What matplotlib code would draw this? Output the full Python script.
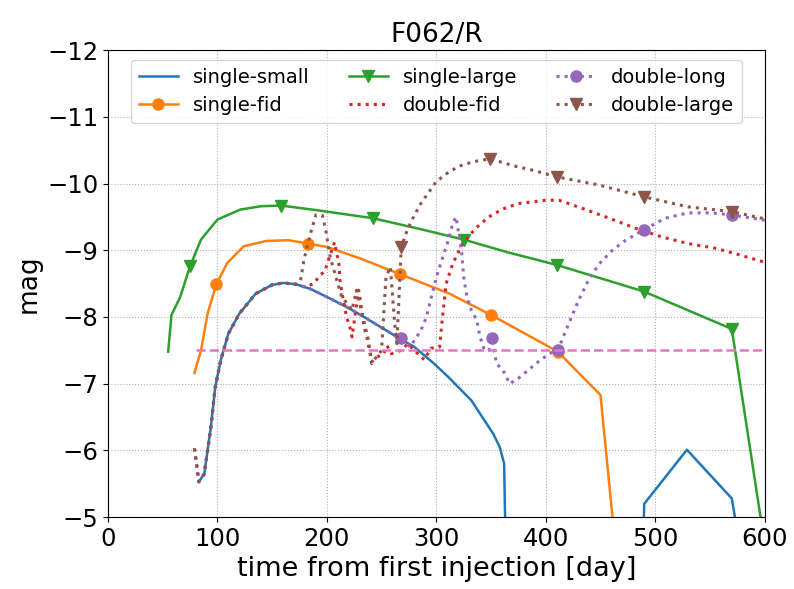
import numpy as np
import matplotlib
matplotlib.use("Agg")
import matplotlib.pyplot as plt

# light curves (time in days, absolute mag)
# the double-* models share the early rise of single-small
t_rise = [83, 88, 91, 94, 98, 103, 110, 120, 135, 150, 160, 172]
m_rise = [-5.53, -5.65, -6.0, -6.35, -6.95, -7.35, -7.75, -8.05, -8.35, -8.48, -8.51, -8.49]

t_small = t_rise + [185, 200, 218, 234, 249, 264, 280, 298, 311, 332, 342, 352, 358, 362,
                    366, 485, 490, 529, 570, 578]
m_small = m_rise + [-8.42, -8.3, -8.15, -8.0, -7.85, -7.7, -7.55, -7.3, -7.1, -6.75, -6.5,
                    -6.25, -6.05, -5.8, -2.0, -2.0, -5.2, -6.01, -5.28, -4.5]

t_fid = [79, 85, 91, 99, 109, 124, 145, 165, 183, 200, 230, 267, 312, 350, 380, 411, 450, 470]
m_fid = [-7.16, -7.5, -8.05, -8.49, -8.81, -9.06, -9.14, -9.15, -9.1, -9.05, -8.88, -8.64,
         -8.35, -8.03, -7.76, -7.48, -6.83, -3.5]

t_large = [55, 58, 66, 75, 85, 100, 121, 140, 158, 191, 242, 282, 325, 365, 410, 450, 490,
           530, 570, 600]
m_large = [-7.48, -8.03, -8.3, -8.76, -9.16, -9.46, -9.61, -9.66, -9.67, -9.6, -9.48, -9.33,
           -9.16, -8.97, -8.78, -8.58, -8.38, -8.1, -7.82, -4.6]

t_dfid = [79] + t_rise + [180, 188, 194, 198, 203, 207, 209, 211, 212, 215, 218, 221, 223,
                          229, 231, 234, 237, 241, 246, 252, 255, 259, 268, 274, 281, 289,
                          295, 303, 306, 309, 315, 324, 336, 348, 361, 375, 400, 412, 433,
                          458, 482, 506, 530, 555, 573, 600]
m_dfid = [-6.03] + m_rise + [-8.45, -8.5, -8.63, -8.68, -8.93, -9.12, -8.95, -8.8, -8.55,
                             -8.25, -8.0, -7.85, -7.7, -8.4, -8.2, -7.85, -7.67, -7.33, -7.4,
                             -7.45, -7.57, -7.45, -7.5, -7.6, -7.48, -7.36, -7.53, -7.55,
                             -8.05, -8.5, -8.8, -9.1, -9.33, -9.5, -9.62, -9.7, -9.75, -9.75,
                             -9.63, -9.48, -9.33, -9.2, -9.1, -9.03, -8.95, -8.82]

t_dlong = [79] + t_small[:18] + [268, 276, 282, 286, 291, 297, 302, 306, 311, 315, 318, 320,
                                 323, 325, 328, 332, 337, 340, 344, 348, 351, 355, 361, 367,
                                 375, 391, 403, 411, 421, 430, 439, 449, 461, 473, 490, 509,
                                 530, 551, 570, 600]
m_dlong = [-6.03] + m_small[:18] + [-7.68, -7.55, -7.7, -7.8, -8.0, -8.4, -8.7, -8.9, -9.15,
                                    -9.4, -9.5, -9.3, -9.0, -8.6, -8.3, -8.1, -7.95, -7.7,
                                    -7.5, -7.5, -7.68, -7.3, -7.2, -7.0, -7.08, -7.3, -7.45,
                                    -7.5, -7.9, -8.25, -8.55, -8.8, -9.0, -9.15, -9.31, -9.48,
                                    -9.56, -9.56, -9.53, -9.45]

t_dlarge = [79] + t_rise + [176, 179, 182, 185, 190, 196, 199, 201, 203, 207, 210, 214, 219,
                            223, 227, 233, 238, 241, 246, 250, 254, 258, 262, 264, 268, 273,
                            277, 285, 300, 312, 324, 338, 349, 372, 388, 410, 448, 490, 530,
                            570, 600]
m_dlarge = [-6.03] + m_rise + [-8.55, -8.85, -9.05, -9.25, -9.53, -9.52, -9.3, -9.1, -8.9,
                               -8.67, -8.5, -8.28, -8.2, -8.1, -8.4, -8.0, -7.65, -7.3, -7.42,
                               -7.5, -8.6, -8.75, -7.9, -7.6, -9.05, -9.28, -9.43, -9.68,
                               -10.03, -10.18, -10.28, -10.34, -10.37, -10.26, -10.2, -10.1,
                               -9.98, -9.8, -9.65, -9.58, -9.47]

t_limit = [80, 600]
m_limit = [-7.5, -7.5]


def marks(t, days):
    # indices of the points that carry a marker
    return [t.index(d) for d in days]


fig = plt.figure(figsize=(7.94, 5.89), dpi=100)
ax = fig.add_axes([0.136, 0.122, 0.827, 0.793])

ax.plot(t_small, m_small, "-", color="C0", lw=1.8, label="single-small")
ax.plot(t_fid, m_fid, "-o", color="C1", lw=1.8, ms=8,
        markevery=marks(t_fid, [99, 183, 267, 350, 411]), label="single-fid")
ax.plot(t_large, m_large, "-v", color="C2", lw=1.8, ms=8,
        markevery=marks(t_large, [75, 158, 242, 325, 410, 490, 570]), label="single-large")
ax.plot(t_dfid, m_dfid, ":", color="C3", lw=2.2, label="double-fid")
ax.plot(t_dlong, m_dlong, ":o", color="C4", lw=2.2, ms=8,
        markevery=marks(t_dlong, [268, 351, 411, 490, 570]), label="double-long")
ax.plot(t_dlarge, m_dlarge, ":v", color="C5", lw=2.2, ms=8,
        markevery=marks(t_dlarge, [268, 349, 410, 490, 570]), label="double-large")
ax.plot(t_limit, m_limit, "--", color="C6", lw=1.8)

ax.set_xlim(0, 600)
ax.set_ylim(-5, -12)
ax.grid(True, linestyle=":", color="#b0b0b0")
ax.tick_params(labelsize=17.5)
ax.set_xlabel("time from first injection [day]", fontsize=19.5)
ax.set_ylabel("mag", fontsize=19)
ax.set_title("F062/R", fontsize=19)
ax.legend(loc="upper center", ncol=3, fontsize=14, columnspacing=2.0)

fig.savefig("out.png", dpi=100)
